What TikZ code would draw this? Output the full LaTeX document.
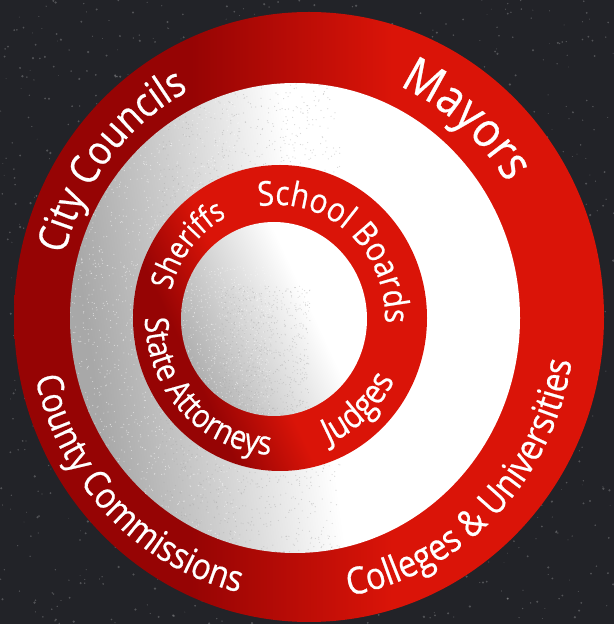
\documentclass[tikz,border=0pt]{standalone}
\usepackage{fontspec}
\newfontfamily\labfont[FakeStretch=0.87,FakeBold=0.6]{Open Sans}
\usetikzlibrary{decorations.text}
\definecolor{bg}{RGB}{34,35,40}
\definecolor{rdark}{RGB}{150,4,4}
\definecolor{rbright}{RGB}{218,20,8}
\definecolor{wgrey}{RGB}{168,168,168}
\definecolor{wgreyl}{RGB}{205,205,205}
\pgfdeclarehorizontalshading{outerred}{100bp}{color(0bp)=(rdark); color(40bp)=(rdark); color(57bp)=(rbright); color(100bp)=(rbright)}
\pgfdeclarehorizontalshading{whitering}{100bp}{color(0bp)=(wgrey); color(27bp)=(wgrey); color(38bp)=(wgreyl); color(52bp)=(white); color(100bp)=(white)}
\pgfdeclarehorizontalshading{innerred}{100bp}{color(0bp)=(rdark); color(33bp)=(rdark); color(45bp)=(rbright); color(100bp)=(rbright)}
\pgfdeclarehorizontalshading{innerwhite}{100bp}{color(0bp)=(wgrey); color(22bp)=(wgrey); color(38bp)=(wgreyl); color(60bp)=(white); color(100bp)=(white)}
\tikzset{
  speck/.style={fill=white, opacity=0.22},
  grainw/.style={fill=white, opacity=0.5},
  graing/.style={fill=wgrey, opacity=0.45},
  ringtext/.style={decorate, decoration={text along path, text align=center, text color=white, text={#1}}}
}
\begin{document}
\begin{tikzpicture}[x=1pt,y=1pt]
\useasboundingbox (0,0) rectangle (614,624);
\fill[bg] (0,0) rectangle (614,624);
\pgfmathsetseed{7}
\foreach \i in {1,...,1400} {
  \fill[speck] ({rnd*614},{rnd*624}) circle ({0.4+rnd*0.9});
}
\begin{scope}
\clip (0,0) rectangle (614,624);
\coordinate (oc) at (309,307);
\coordinate (wc) at (295,306);
\coordinate (ic) at (280,306);
\coordinate (cc) at (274,305);
\coordinate (ot) at (302,307);
\coordinate (it) at (277,306);
\shade[shading=outerred, shading angle=0] (oc) ellipse [x radius=295, y radius=305];
\shade[shading=whitering, shading angle=8] (wc) ellipse [x radius=225, y radius=235];
\begin{scope}
  \clip (wc) ellipse [x radius=225, y radius=235];
  \foreach \i in {1,...,1800} {
    \fill[grainw] ({70+rnd*170},{71+rnd*470}) circle (0.6);
  }
  \foreach \i in {1,...,1800} {
    \fill[graing] ({160+rnd*180},{71+rnd*470}) circle (0.6);
  }
\end{scope}
\shade[shading=innerred, shading angle=25] (ic) ellipse [x radius=147, y radius=153];
\shade[shading=innerwhite, shading angle=25] (cc) ellipse [x radius=93, y radius=97];
\begin{scope}
  \clip (cc) ellipse [x radius=93, y radius=97];
  \foreach \i in {1,...,700} {
    \fill[grainw] ({181+rnd*90},{208+rnd*150}) circle (0.55);
  }
  \foreach \i in {1,...,700} {
    \fill[graing] ({220+rnd*90},{208+rnd*130}) circle (0.55);
  }
\end{scope}
% outer ring labels
\path[ringtext={|\labfont\fontsize{41}{44}\selectfont|City Councils}]
  ([shift={(201:245 and 255)}]ot) arc[start angle=201, end angle=81, x radius=245, y radius=255];
\path[ringtext={|\labfont\fontsize{49}{52}\selectfont|Mayors}]
  ([shift={(110:242 and 252)}]ot) arc[start angle=110, end angle=-10, x radius=242, y radius=252];
\path[ringtext={|\labfont\fontsize{36.5}{40}\selectfont|County Commissions}]
  ([shift={(165:273 and 283)}]ot) arc[start angle=165, end angle=285, x radius=273, y radius=283];
\path[ringtext={|\labfont\fontsize{37.5}{40}\selectfont|Colleges {\&} Universities}]
  ([shift={(250:273 and 283)}]ot) arc[start angle=250, end angle=380, x radius=273, y radius=283];
% inner ring labels
\path[ringtext={|\labfont\fontsize{31}{34}\selectfont|Sheriffs}]
  ([shift={(200:109 and 114)}]it) arc[start angle=200, end angle=82, x radius=109, y radius=114];
\path[ringtext={|\labfont\fontsize{34}{37}\selectfont|School Boards}]
  ([shift={(131:108 and 113)}]it) arc[start angle=131, end angle=-33, x radius=108, y radius=113];
\path[ringtext={|\labfont\fontsize{33}{36}\selectfont|State Attorneys}]
  ([shift={(150:132 and 137)}]it) arc[start angle=150, end angle=298, x radius=132, y radius=137];
\path[ringtext={|\labfont\fontsize{35}{38}\selectfont|Judges}]
  ([shift={(262:132 and 137)}]it) arc[start angle=262, end angle=363, x radius=132, y radius=137];
\end{scope}
\end{tikzpicture}
\end{document}
